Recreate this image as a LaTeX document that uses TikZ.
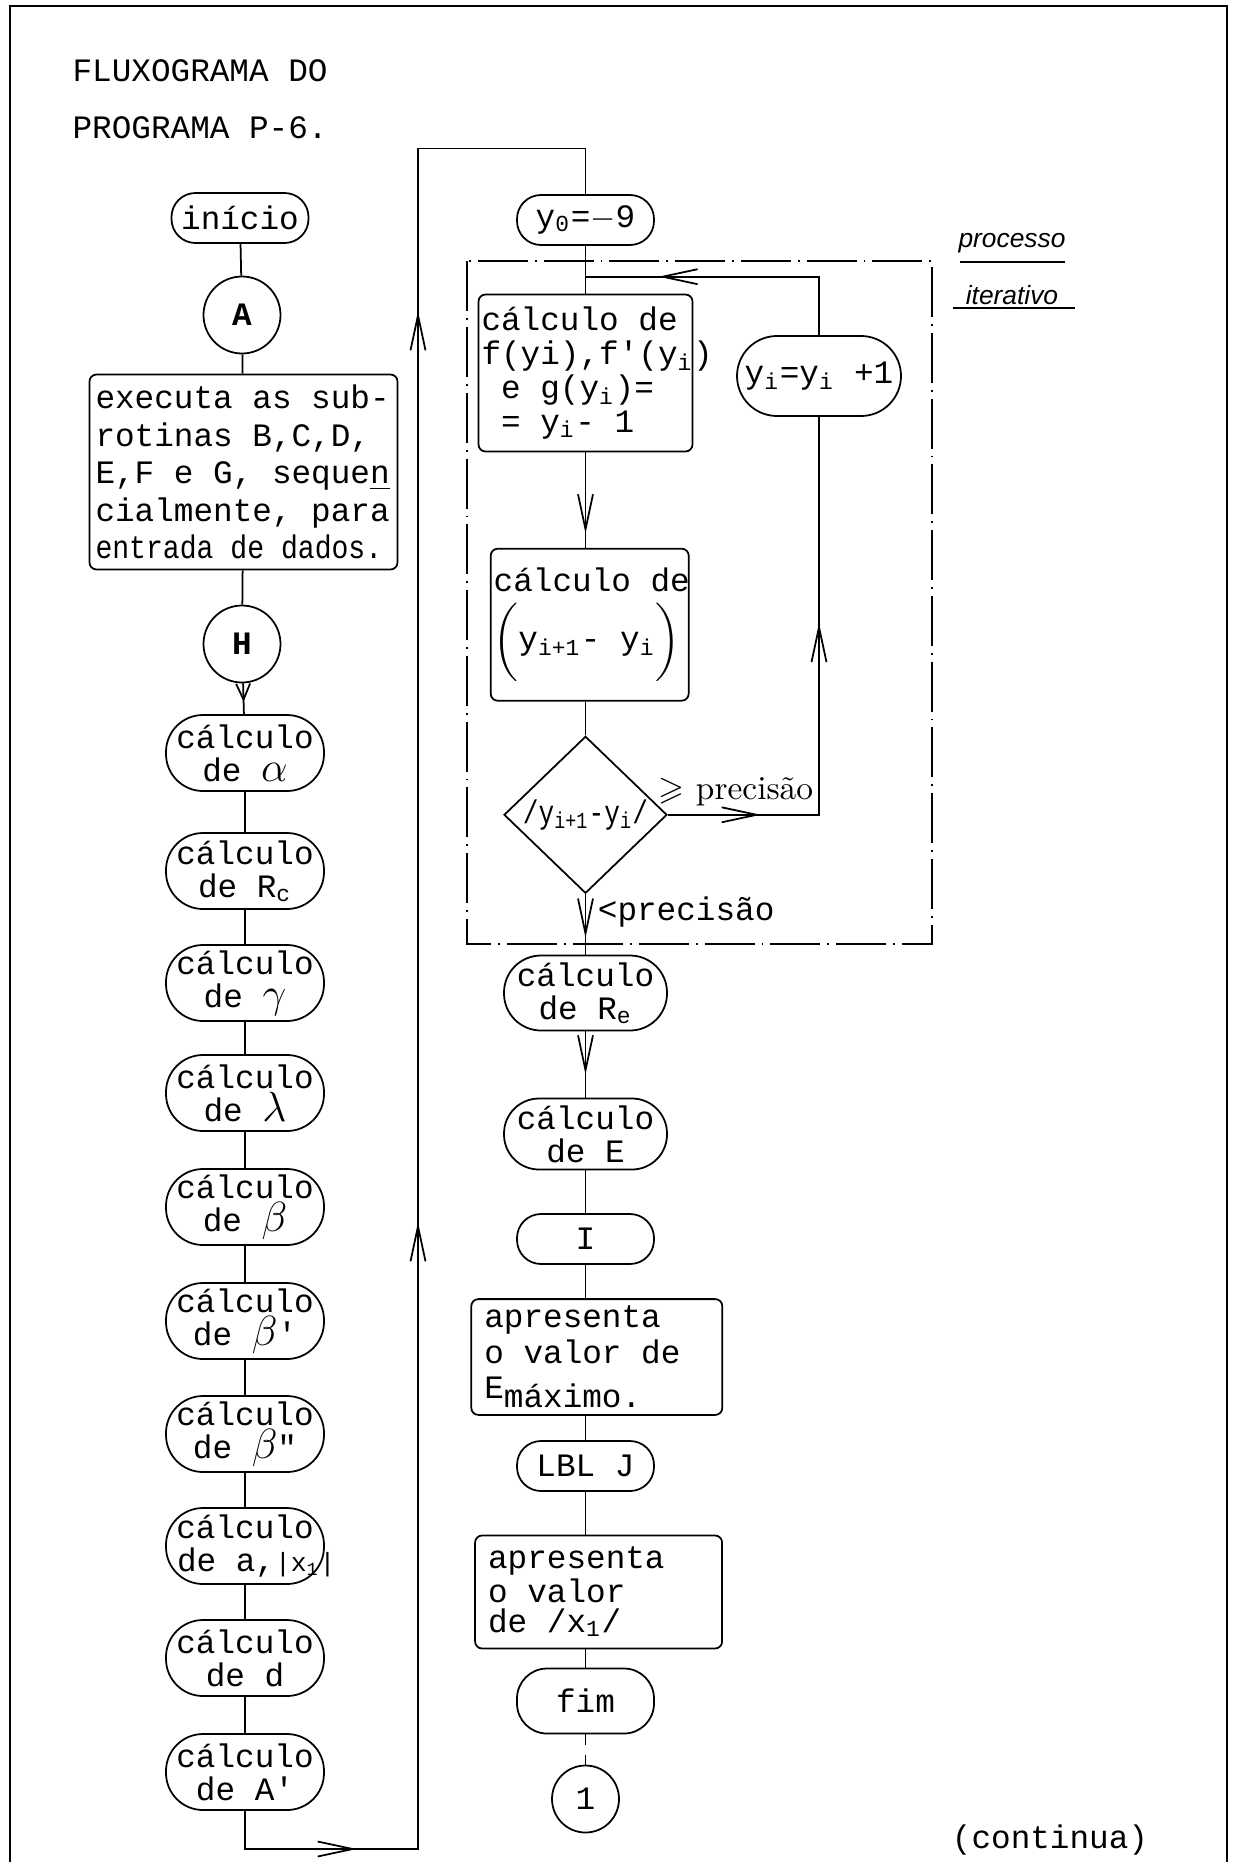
\documentclass[tikz,border=0pt]{standalone}
\usepackage{fontspec}
\setmonofont{Liberation Mono}
\setsansfont{Liberation Sans}
\usepackage{amsmath,amssymb}
\usepackage{graphicx}
\usetikzlibrary{shapes.geometric,arrows.meta,decorations.markings,positioning}
\newcommand{\datilo}[2]{\ttfamily\fontsize{#1}{#2}\selectfont}
\newcommand{\grega}[1]{{\large$#1$}}
\tikzset{
    longbarb/.tip={Straight Barb[length=3.5mm,width=1.5mm]},
    shortbarb/.tip={Straight Barb[length=1.6mm,width=1.4mm]},
    midarrow/.style={postaction={decorate,
        decoration={markings, mark=at position #1 with {\arrow{longbarb}}}}}
}

\begin{document}
\begin{tikzpicture}[
    line width=0.5pt,
    txt/.style={font=\datilo{9.3}{10.6}},
    term/.style={rectangle, rounded corners=0.24cm, draw, txt, minimum width=1.37cm,
                 minimum height=0.50cm, inner sep=1pt},
    calc/.style={term, rounded corners=0.37cm, align=flush center, minimum width=1.58cm,
                 minimum height=0.76cm, inner sep=0pt, font=\datilo{9.3}{9.4}},
    conn/.style={circle, draw, txt, minimum size=0.77cm, inner sep=0pt},
    proc/.style={rectangle, rounded corners=2pt, draw, txt, align=flush left, inner ysep=2pt},
    test/.style={diamond, draw, txt, minimum width=1.63cm, minimum height=1.57cm, inner sep=0pt},
    iter/.style={dash pattern=on 5mm off 0.7mm on 0.5pt off 0.7mm},
    hand/.style={font=\sffamily\itshape\fontsize{7.5}{8}\selectfont, inner sep=1pt}
]
    \useasboundingbox (0,0) rectangle (12.34,-18.62);
    \draw[line width=0.6pt] (0.10,-18.62) -- (0.10,-0.06) -- (12.27,-0.06) -- (12.27,-18.62);

    \node[txt, anchor=west] (tit1) at (0.60,-0.71) {FLUXOGRAMA DO};
    \node[txt, anchor=west] (tit2) at (0.60,-1.28) {PROGRAMA P-6.};

    \node[term] (inicio) at (2.40,-2.18) {início};
    \node[conn] (conA) at (2.42,-3.15) {\textbf{A}};
    \node[proc, text width=2.96cm, minimum height=1.95cm, inner xsep=0.06cm,
          font=\datilo{9.3}{10.7}] (entrada) at (2.435,-4.72)
          {executa as sub-\\rotinas B,C,D,\\E,F e G, seque\underline{n}\\cialmente, para\\\scalebox{0.86}[1]{entrada de dados.}};
    \node[conn] (conH) at (2.42,-6.44) {\textbf{H}};

    \node[calc] (alfa) at (2.45,-7.53) {cálculo\\de \grega{\alpha}};
    \node[calc] (rc) at (2.45,-8.71) {cálculo\\de R\textsubscript{c}};
    \node[calc] (gama) at (2.45,-9.83) {cálculo\\de \grega{\gamma}};
    \node[calc] (lambda) at (2.45,-10.93) {cálculo\\de \grega{\lambda}};
    \node[calc] (beta) at (2.45,-12.07) {cálculo\\de \grega{\beta}};
    \node[calc] (betal) at (2.45,-13.21) {cálculo\\de \grega{\beta}'};
    \node[calc] (betall) at (2.45,-14.34) {cálculo\\de \grega{\beta}"};
    \node[calc] (ax) at (2.45,-15.46)
          {cálculo\\\makebox[1.36cm][l]{de a,{\fontsize{7.5}{7.5}\selectfont|x\textsubscript{1}|}}};
    \node[calc] (dd) at (2.45,-16.58) {cálculo\\de d};
    \node[calc] (alinha) at (2.45,-17.72) {cálculo\\de A'};

    \node[term] (yzero) at (5.855,-2.20) {y\textsubscript{0}=$-$9};
    \draw[iter] (4.668,-2.613) rectangle (9.323,-9.442);
    \node[hand] (proc1) at (10.12,-2.43) {processo};
    \node[hand] (proc2) at (10.12,-2.95) {iterativo};
    \draw (9.60,-2.62) -- (10.65,-2.62);
    \draw (9.53,-3.08) -- (10.75,-3.08);

    \node[proc, text width=2.08cm, minimum height=1.57cm, inner xsep=0.03cm,
          font=\datilo{9.3}{9.6}] (fyi) at (5.855,-3.73)
          {cálculo~de\\f(yi),f'(y\textsubscript{i})\\~e g(y\textsubscript{i})=\\~= y\textsubscript{i}- 1};
    \node[term, minimum width=1.64cm, minimum height=0.80cm, rounded corners=0.4cm] (incr) at (8.19,-3.76)
          {y\textsubscript{i}=y\textsubscript{i} +1};
    \node[proc, text width=1.92cm, minimum height=1.52cm, inner xsep=0.03cm] (dif) at (5.897,-6.247)
          {cálculo~de\\[2pt]$\biggl($y\textsubscript{i+1}-~y\textsubscript{i}$\biggr)$};
    \node[test] (teste) at (5.855,-8.148) {\scalebox{0.8}[1]{/y\textsubscript{i+1}-y\textsubscript{i}/}};
    \node[font=\rmfamily\fontsize{9.5}{10}\selectfont, anchor=west, inner sep=0pt] (maior) at (6.58,-7.92)
          {$\geqslant$ precisão};
    \node[txt, anchor=west, inner sep=0pt] (menor) at (5.97,-9.12) {<precisão};

    \node[calc, minimum width=1.63cm, minimum height=0.75cm] (re) at (5.855,-9.93) {cálculo\\de R\textsubscript{e}};
    \node[calc, minimum width=1.63cm, minimum height=0.71cm, rounded corners=0.35cm] (ee) at (5.855,-11.34) {cálculo\\de E};
    \node[term] (conI) at (5.855,-12.39) {I};
    \node[proc, text width=2.25cm, minimum height=1.13cm, inner xsep=0.13cm,
          font=\datilo{9.3}{10.1}] (emax) at (5.968,-13.57)
          {apresenta\\o valor de\\E\raisebox{-0.5ex}{máximo.}};
    \node[term] (lblj) at (5.855,-14.66) {LBL J};
    \node[proc, text width=2.21cm, minimum height=1.13cm, inner xsep=0.13cm,
          font=\datilo{9.3}{8.5}] (xum) at (5.986,-15.92)
          {apresenta\\o valor\\de /x\textsubscript{1}/};
    \node[term, minimum height=0.65cm, rounded corners=0.3cm] (fim) at (5.855,-17.01) {fim};
    \node[conn, minimum size=0.67cm] (conUm) at (5.855,-17.99) {1};
    \node[txt] (cont) at (10.50,-18.40) {(continua)};

    \draw (inicio) -- (conA);
    \draw (conA) -- (entrada);
    \draw (entrada) -- (conH);
    \draw[postaction={decorate, decoration={markings, mark=at position 0.6 with {\arrow{shortbarb}}}}]
        (conH) -- (alfa);
    \draw (alfa) -- (rc);
    \draw (rc) -- (gama);
    \draw (gama) -- (lambda);
    \draw (lambda) -- (beta);
    \draw (beta) -- (betal);
    \draw (betal) -- (betall);
    \draw (betall) -- (ax);
    \draw (ax) -- (dd);
    \draw (dd) -- (alinha);

    \coordinate (cantoB) at (4.18,-18.49);
    \coordinate (cantoT) at (4.18,-1.485);
    \draw[midarrow=1.50cm, midarrow=8.38cm, midarrow=17.49cm]
        (alinha.south) |- (cantoB) -- (cantoT) -| (yzero.north);

    \coordinate (volta) at (5.855,-2.767);
    \coordinate (dir) at (8.19,-8.148);
    \draw (yzero) -- (fyi);
    \draw[midarrow=2.19cm] (incr.north) |- (volta);
    \draw[midarrow=0.85] (fyi.south) -- (fyi.south |- dif.north);
    \draw (dif.south -| teste) -- (teste);
    \draw[midarrow=0.93cm, midarrow=3.43cm] (teste.east) -- (dir) -- (incr.south);
    \draw[midarrow=0.72] (teste) -- (re);
    \draw[midarrow=0.65] (re) -- (ee);
    \draw (ee) -- (conI);
    \draw (conI.south) -- (conI.south |- emax.north);
    \draw (emax.south -| lblj) -- (lblj);
    \draw (lblj.south) -- (lblj.south |- xum.north);
    \draw (xum.south -| fim) -- (fim);
    \draw[dashed] (fim) -- (conUm);
\end{tikzpicture}
\end{document}
